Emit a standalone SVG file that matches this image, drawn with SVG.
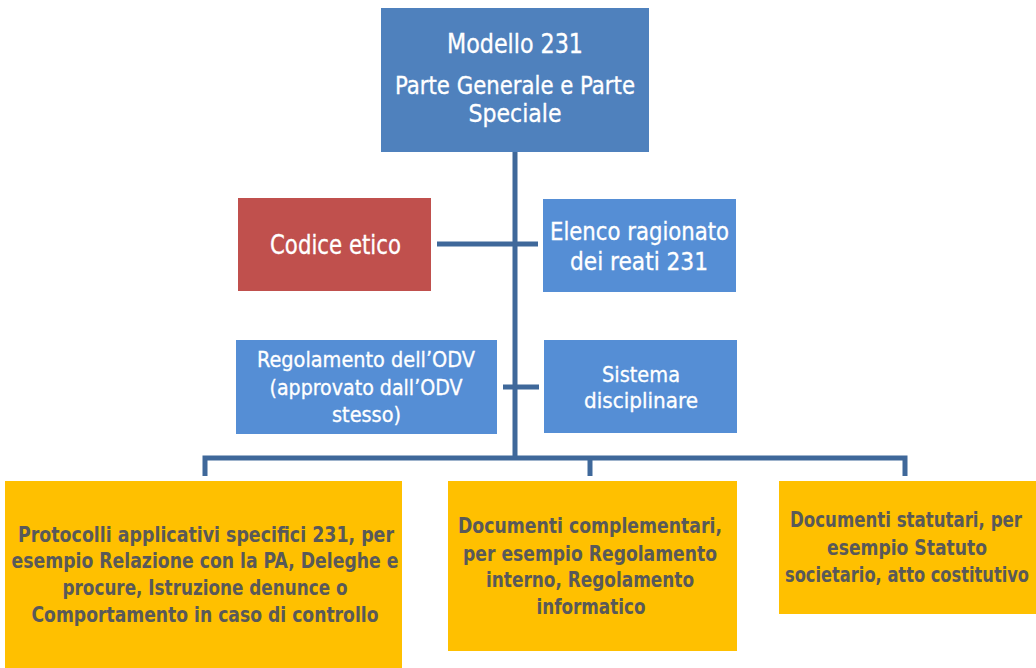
<svg xmlns="http://www.w3.org/2000/svg" width="1036" height="668" viewBox="0 0 1036 668">
<style>
text{font-family:"DejaVu Sans Condensed","Liberation Sans Narrow","Liberation Sans",sans-serif;text-anchor:middle}
.w{fill:#fff;font-size:24px;stroke:#fff;stroke-width:0.3}
.b{fill:#fff;font-size:26px;stroke:#fff;stroke-width:0.3}
.s{fill:#fff;font-size:21px;stroke:#fff;stroke-width:0.3}
.y{fill:#595959;font-size:21px;font-weight:bold}
.ln{stroke:#3F689A;stroke-width:5;fill:none}
</style>
<rect width="1036" height="668" fill="#fff"/>
<g id="connectors">
<line class="ln" x1="515" y1="152" x2="515" y2="460"/>
<line class="ln" x1="437" y1="244" x2="538" y2="244"/>
<line class="ln" x1="503" y1="387" x2="539" y2="387"/>
<polyline class="ln" points="205,476 205,458 905,458 905,476"/>
<line class="ln" x1="590" y1="458" x2="590" y2="476"/>
</g>
<g id="n-modello">
<rect x="381" y="8" width="268" height="144" fill="#4F81BD"/>
<text class="b" x="515" y="53" textLength="136" lengthAdjust="spacingAndGlyphs">Modello 231</text>
<text class="w" x="515" y="94" textLength="240" lengthAdjust="spacingAndGlyphs">Parte Generale e Parte</text>
<text class="w" x="515" y="122" textLength="93" lengthAdjust="spacingAndGlyphs">Speciale</text>
</g>
<g id="n-codice">
<rect x="238" y="198" width="193" height="93" fill="#C0504D"/>
<text class="b" x="335.5" y="254" textLength="131" lengthAdjust="spacingAndGlyphs">Codice etico</text>
</g>
<g id="n-elenco">
<rect x="543" y="199" width="193" height="93" fill="#558ED5"/>
<text class="w" x="639.5" y="240" textLength="179" lengthAdjust="spacingAndGlyphs">Elenco ragionato</text>
<text class="w" x="639" y="270" textLength="138" lengthAdjust="spacingAndGlyphs">dei reati 231</text>
</g>
<g id="n-regolamento">
<rect x="236" y="340" width="261" height="94" fill="#558ED5"/>
<text class="s" x="366" y="367" textLength="218" lengthAdjust="spacingAndGlyphs">Regolamento dell’ODV</text>
<text class="s" x="366" y="395" textLength="193" lengthAdjust="spacingAndGlyphs">(approvato dall’ODV</text>
<text class="s" x="366.5" y="422" textLength="69" lengthAdjust="spacingAndGlyphs">stesso)</text>
</g>
<g id="n-sistema">
<rect x="544" y="340" width="193" height="93" fill="#558ED5"/>
<text class="s" x="641" y="382" textLength="78" lengthAdjust="spacingAndGlyphs">Sistema</text>
<text class="s" x="641" y="408" textLength="114" lengthAdjust="spacingAndGlyphs">disciplinare</text>
</g>
<g id="n-protocolli">
<rect x="5" y="481" width="397" height="187" fill="#FFC000"/>
<text class="y" x="206" y="542" textLength="376" lengthAdjust="spacingAndGlyphs">Protocolli applicativi specifici 231, per</text>
<text class="y" x="205" y="568" textLength="387" lengthAdjust="spacingAndGlyphs">esempio Relazione con la PA, Deleghe e</text>
<text class="y" x="205" y="595" textLength="285" lengthAdjust="spacingAndGlyphs">procure, Istruzione denunce o</text>
<text class="y" x="205" y="622" textLength="347" lengthAdjust="spacingAndGlyphs">Comportamento in caso di controllo</text>
</g>
<g id="n-complementari">
<rect x="448" y="481" width="289" height="170" fill="#FFC000"/>
<text class="y" x="590" y="533" textLength="264" lengthAdjust="spacingAndGlyphs">Documenti complementari,</text>
<text class="y" x="590" y="561" textLength="254" lengthAdjust="spacingAndGlyphs">per esempio Regolamento</text>
<text class="y" x="590" y="587" textLength="208" lengthAdjust="spacingAndGlyphs">interno, Regolamento</text>
<text class="y" x="591" y="614" textLength="109" lengthAdjust="spacingAndGlyphs">informatico</text>
</g>
<g id="n-statutari">
<rect x="779" y="481" width="257" height="133" fill="#FFC000"/>
<text class="y" x="906" y="527" textLength="232" lengthAdjust="spacingAndGlyphs">Documenti statutari, per</text>
<text class="y" x="907" y="555" textLength="160" lengthAdjust="spacingAndGlyphs">esempio Statuto</text>
<text class="y" x="907" y="582" textLength="244" lengthAdjust="spacingAndGlyphs">societario, atto costitutivo</text>
</g>
</svg>
